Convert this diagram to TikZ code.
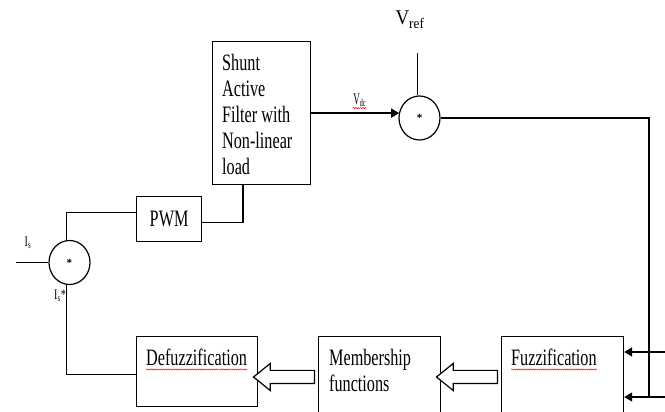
\documentclass[tikz,border=0pt]{standalone}
\usepackage{fontspec}
\setmainfont{Liberation Serif}
\usepackage{graphicx}
\usepackage{tikz}
\usetikzlibrary{shapes,shapes.arrows,arrows.meta,positioning,calc,decorations.pathmorphing}

\newcommand{\stretched}[2][1.45]{\scalebox{1}[#1]{#2}}
\newcommand{\blocklines}[1]{\stretched{\begin{tabular}{@{}l@{}}#1\end{tabular}}}

\tikzset{
  blockbox/.style={draw,line width=1.2pt,anchor=north west,inner sep=0pt},
  blocktext/.style={anchor=north west,inner sep=0pt,font=\fontsize{16.2}{18}\selectfont},
  sumnode/.style={draw,ellipse,line width=1.2pt,minimum width=41pt,minimum height=44pt,inner sep=0pt,font=\fontsize{11}{11}\selectfont\bfseries},
  sigline/.style={line width=1.2pt},
  sigarrow/.style={line width=1.2pt,-{Triangle[length=8pt,width=9pt]}},
  hollowarrow/.style={single arrow,draw,line width=1.2pt,fill=white,inner sep=6pt,
    single arrow head extend=7pt,single arrow tip angle=78,single arrow head indent=0pt,rotate=180},
  spellmark/.style={red,line width=0.5pt,decorate,decoration={snake,amplitude=0.6pt,segment length=2.4pt}},
  smalllbl/.style={inner sep=0pt,font=\fontsize{10}{12}\selectfont}
}

\begin{document}
\begin{tikzpicture}[x=1pt,y=1pt]
  \useasboundingbox (0,0) rectangle (665,412);
  \clip (0,0) rectangle (665,412);
  % blocks
  \node[blockbox,minimum width=98pt,minimum height=143pt] (shunt) at (212,371) {};
  \node[blocktext,below right=11pt and 10pt of shunt.north west] (shunttxt)
    {\blocklines{Shunt\\Active\\Filter with\\Non-linear\\load}};
  \node[blockbox,minimum width=65pt,minimum height=45pt,font=\fontsize{16.2}{18}\selectfont] (pwm) at (136,216) {\stretched{PWM}};
  \node[blockbox,minimum width=121pt,minimum height=70pt] (defuzz) at (136,76) {};
  \node[blocktext,below right=11pt and 10pt of defuzz.north west] (deftxt) {\blocklines{Defuzzification}};
  \node[blockbox,minimum width=122pt,minimum height=90pt] (memb) at (318,76) {};
  \node[blocktext,below right=11pt and 11pt of memb.north west] (membtxt) {\blocklines{Membership\\functions}};
  \node[blockbox,minimum width=122pt,minimum height=90pt] (fuzz) at (501,76) {};
  \node[blocktext,below right=11pt and 10pt of fuzz.north west] (fuzztxt) {\blocklines{Fuzzification}};
  % comparators
  \node[sumnode] (sum1) at (419.5,294) {\raisebox{-2pt}{*}};
  \node[sumnode] (sum2) at (69.5,149.5) {\raisebox{-2pt}{*}};
  % hollow arrows between fuzzy blocks
  \node[hollowarrow,minimum height=61pt] (arrmd) at ($(defuzz.north east)!0.5!(memb.north west)+(0,-41)$) {};
  \node[hollowarrow,minimum height=61pt] (arrfm) at ($(memb.north east)!0.5!(fuzz.north west)+(0,-41)$) {};
  % dc voltage and reference
  \draw[sigarrow] (shunt.east) -- node[smalllbl,above=6pt,pos=0.55] (vdc)
    {\stretched[1.8]{\fontsize{9}{10}\selectfont V\textsubscript{dc}}} (shunt.east -| sum1.163);
  \coordinate (vreftop) at ($(sum1.95)+(0,42)$);
  \draw[sigline] (sum1.95) -- (vreftop);
  \node[font=\fontsize{19}{22}\selectfont] (vref) at (410,392) {\stretched[1.1]{V\textsubscript{ref}}};
  % error signal back to fuzzification
  \coordinate (fbcorner) at (649,15);
  \coordinate (edgeA) at (665,60);
  \coordinate (edgeB) at (665,15);
  \draw[sigline] (sum1.east) -| (fbcorner);
  \draw[sigarrow] (edgeA) -- (fuzz.east |- edgeA);
  \draw[sigarrow] (edgeB) -- (fuzz.east |- edgeB);
  % current loop
  \coordinate (isin) at ($(sum2.west)+(-32,0)$);
  \draw[sigline] (isin) -- (sum2.west);
  \node[smalllbl] (islbl) at (28,169) {\stretched{I\textsubscript{s}}};
  \node[smalllbl] (isreflbl) at (60,116) {\stretched{I\textsubscript{s}*}};
  \draw[sigline] (sum2.97) |- ($(pwm.west)+(0,6.5)$);
  \draw[sigline] ($(pwm.east)+(0,-3.5)$) -| ($(shunt.south west)+(31,0)$);
  \draw[sigline] (sum2.263) |- ($(defuzz.west)+(0,-3)$);
  % spell check marks
  \draw[spellmark] ($(deftxt.south west)+(0,4)$) -- ($(deftxt.south east)+(0,4)$);
  \draw[spellmark] ($(fuzztxt.south west)+(0,4)$) -- ($(fuzztxt.south east)+(0,4)$);
  \draw[spellmark] ($(vdc.south west)+(0,-1)$) -- ($(vdc.south east)+(0,-1)$);
\end{tikzpicture}
\end{document}
